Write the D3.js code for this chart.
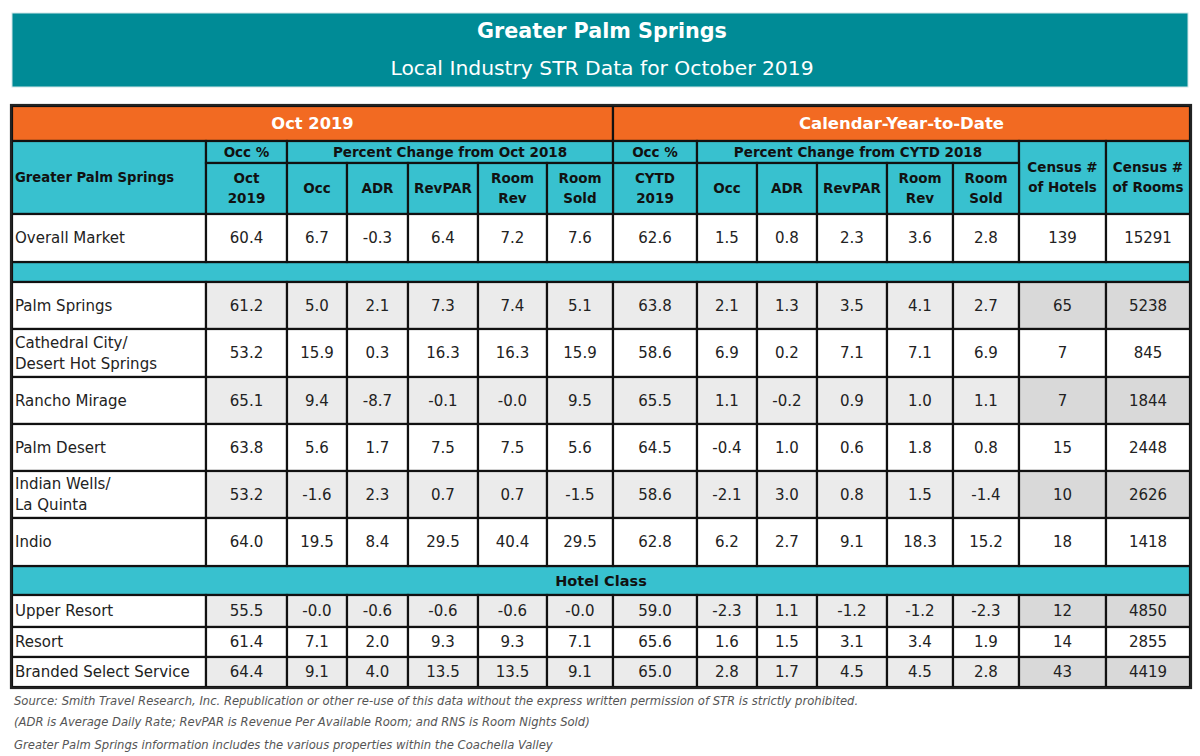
<!DOCTYPE html>
<meta charset="utf-8">
<head>
<title>Greater Palm Springs STR table</title>
<style>
body { margin: 0; background: #fff; }
svg text { font-family: "Century Gothic", "DejaVu Sans", sans-serif; }
</style>
</head>
<body>
<script src="https://d3js.org/d3.v7.min.js"></script>
<div id="chart"></div>
<script>

// ---- data ----
var markets = ["Overall Market", "Palm Springs", "Cathedral City/\nDesert Hot Springs", "Rancho Mirage",
  "Palm Desert", "Indian Wells/\nLa Quinta", "Indio", "Upper Resort", "Resort", "Branded Select Service"];

var occOct      = ["60.4","61.2","53.2","65.1","63.8","53.2","64.0","55.5","61.4","64.4"];
var occChgOct   = ["6.7","5.0","15.9","9.4","5.6","-1.6","19.5","-0.0","7.1","9.1"];
var adrChgOct   = ["-0.3","2.1","0.3","-8.7","1.7","2.3","8.4","-0.6","2.0","4.0"];
var revparOct   = ["6.4","7.3","16.3","-0.1","7.5","0.7","29.5","-0.6","9.3","13.5"];
var roomRevOct  = ["7.2","7.4","16.3","-0.0","7.5","0.7","40.4","-0.6","9.3","13.5"];
var roomSoldOct = ["7.6","5.1","15.9","9.5","5.6","-1.5","29.5","-0.0","7.1","9.1"];
var occYtd      = ["62.6","63.8","58.6","65.5","64.5","58.6","62.8","59.0","65.6","65.0"];
var occChgYtd   = ["1.5","2.1","6.9","1.1","-0.4","-2.1","6.2","-2.3","1.6","2.8"];
var adrChgYtd   = ["0.8","1.3","0.2","-0.2","1.0","3.0","2.7","1.1","1.5","1.7"];
var revparYtd   = ["2.3","3.5","7.1","0.9","0.6","0.8","9.1","-1.2","3.1","4.5"];
var roomRevYtd  = ["3.6","4.1","7.1","1.0","1.8","1.5","18.3","-1.2","3.4","4.5"];
var roomSoldYtd = ["2.8","2.7","6.9","1.1","0.8","-1.4","15.2","-2.3","1.9","2.8"];
var hotels      = [139, 65, 7, 7, 15, 10, 18, 12, 14, 43];
var rooms       = [15291, 5238, 845, 1844, 2448, 2626, 1418, 4850, 2855, 4419];

var metricLabels = ["Occ", "ADR", "RevPAR", "Room\nRev", "Room\nSold"];
var title = "Greater Palm Springs";
var subtitle = "Local Industry STR Data for October 2019";
var footnotes = [
  "Source: Smith Travel Research, Inc. Republication or other re-use of this data without the express written permission of STR is strictly prohibited.",
  "(ADR is Average Daily Rate; RevPAR is Revenue Per Available Room; and RNS is Room Nights Sold)",
  "Greater Palm Springs information includes the various properties within the Coachella Valley"
];

var columns = [occOct, occChgOct, adrChgOct, revparOct, roomRevOct, roomSoldOct,
  occYtd, occChgYtd, adrChgYtd, revparYtd, roomRevYtd, roomSoldYtd, hotels, rooms];

// ---- layout ----
var W = 1200, H = 756;
var ORANGE = "#f26a22", CYAN = "#38c1cf", TEAL = "#008b96";
var colEdges = [12, 206, 287, 347, 408, 478, 547, 613, 697, 757, 817, 887, 953, 1019, 1106, 1190];
var rowTops = [214, 282, 329, 377, 424, 471, 518, 595, 627, 657];
var rowBottoms = [262, 329, 377, 424, 471, 518, 566, 627, 657, 687];

var x = d3.scaleOrdinal().domain(d3.range(colEdges.length)).range(colEdges);

var svg = d3.select("#chart").append("svg")
    .attr("width", W).attr("height", H);

// title box
svg.append("rect").attr("x", 12).attr("y", 13).attr("width", 1176).attr("height", 74)
  .attr("fill", TEAL).attr("stroke", "#cfe6e8").attr("stroke-width", 1);
svg.append("text").attr("x", 602).attr("y", 38).attr("text-anchor", "middle")
  .attr("fill", "#fff").attr("font-size", 20.7).attr("font-weight", "bold").text(title);
svg.append("text").attr("x", 602).attr("y", 75).attr("text-anchor", "middle")
  .attr("fill", "#fff").attr("font-size", 20.3).text(subtitle);

var g = svg.append("g");

function cell(x0, x1, y0, y1, fill, label, opts) {
  opts = opts || {};
  g.append("rect").attr("x", x0).attr("y", y0).attr("width", x1 - x0).attr("height", y1 - y0)
    .attr("fill", fill).attr("stroke", "#111").attr("stroke-width", 2.2);
  if (label === undefined || label === "") return;
  var lines = String(label).split("\n");
  var lh = opts.lh || 20;
  var cy = (y0 + y1) / 2 - (lines.length - 1) * lh / 2;
  var tx = opts.left ? x0 + 3 : (x0 + x1) / 2;
  var t = g.append("text")
    .attr("x", tx)
    .attr("text-anchor", opts.left ? "start" : "middle")
    .attr("font-size", opts.size || 15)
    .attr("font-weight", opts.bold ? "bold" : "normal")
    .attr("fill", opts.color || "#222");
  lines.forEach(function(l, i) {
    t.append("tspan").attr("x", tx)
      .attr("y", cy + i * lh).attr("dy", "0.35em").text(l);
  });
}

var hdr = {bold: true, size: 13.5, color: "#111"};

// header rows
cell(x(0), x(7), 106, 141, ORANGE, "Oct 2019", {bold: true, size: 16.3, color: "#fff"});
cell(x(7), x(15), 106, 141, ORANGE, "Calendar-Year-to-Date", {bold: true, size: 16.5, color: "#fff"});
cell(x(0), x(1), 141, 214, CYAN, "Greater Palm Springs", {bold: true, left: true, size: 13.2, color: "#111"});
cell(x(1), x(2), 141, 163, CYAN, "Occ %", hdr);
cell(x(2), x(7), 141, 163, CYAN, "Percent Change from Oct 2018", hdr);
cell(x(7), x(8), 141, 163, CYAN, "Occ %", hdr);
cell(x(8), x(13), 141, 163, CYAN, "Percent Change from CYTD 2018", hdr);
cell(x(13), x(14), 141, 214, CYAN, "Census #\nof Hotels", hdr);
cell(x(14), x(15), 141, 214, CYAN, "Census #\nof Rooms", hdr);
cell(x(1), x(2), 163, 214, CYAN, "Oct\n2019", hdr);
cell(x(7), x(8), 163, 214, CYAN, "CYTD\n2019", hdr);
metricLabels.forEach(function(m, i) {
  cell(x(2 + i), x(3 + i), 163, 214, CYAN, m, hdr);
  cell(x(8 + i), x(9 + i), 163, 214, CYAN, m, hdr);
});

// separator bands
cell(x(0), x(15), 262, 282, CYAN, "");
cell(x(0), x(15), 566, 595, CYAN, "Hotel Class", {bold: true, size: 14.5, color: "#111"});

// body
markets.forEach(function(name, r) {
  var y0 = rowTops[r], y1 = rowBottoms[r];
  var shaded = r % 2 === 1;
  cell(x(0), x(1), y0, y1, "#fff", name, {left: true, lh: 21});
  columns.forEach(function(col, c) {
    var fill = !shaded ? "#fff" : (c >= 12 ? "#d9d9d9" : "#ebebeb");
    cell(x(c + 1), x(c + 2), y0, y1, fill, col[r]);
  });
});

// outer border
g.append("rect").attr("x", 11).attr("y", 105).attr("width", 1180).attr("height", 583)
  .attr("fill", "none").attr("stroke", "#222").attr("stroke-width", 2.2);

// footnotes
var fy = [701, 722, 745];
footnotes.forEach(function(f, i) {
  svg.append("text").attr("x", 14).attr("y", fy[i]).attr("dy", "0.35em")
    .attr("font-size", 11.6).attr("font-style", "italic").attr("fill", "#555").text(f);
});

</script>
</body>
